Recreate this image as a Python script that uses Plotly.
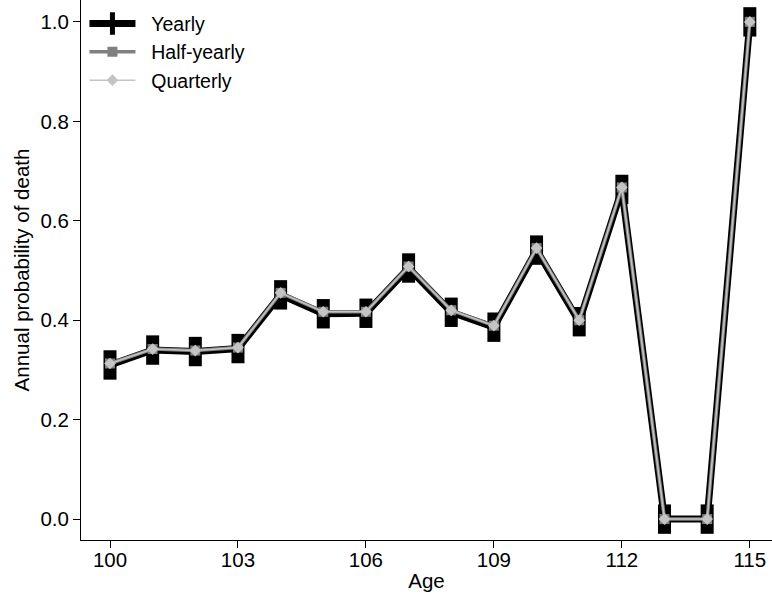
import plotly.graph_objects as go

ages = list(range(100, 116))
yearly = [0.310, 0.340, 0.337, 0.343, 0.451, 0.413, 0.414, 0.505, 0.416, 0.386, 0.541, 0.397, 0.663, 0.0, 0.0, 1.0]
half_yearly = [0.313, 0.342, 0.339, 0.345, 0.455, 0.417, 0.417, 0.508, 0.420, 0.389, 0.545, 0.400, 0.667, 0.0, 0.0, 1.0]
quarterly = [0.313, 0.342, 0.339, 0.345, 0.455, 0.417, 0.417, 0.508, 0.420, 0.389, 0.545, 0.400, 0.667, 0.0, 0.0, 1.0]
x_ticks = [100, 103, 106, 109, 112, 115]
y_ticks = [0.0, 0.2, 0.4, 0.6, 0.8, 1.0]

FONT = "Liberation Sans, Arial, sans-serif"
FS = 20.5
NB = "\u00a0\u00a0"

fig = go.Figure()
fig.add_trace(go.Scatter(
    x=ages, y=yearly, name=NB + "Yearly", mode="lines+markers",
    line=dict(color="black", width=7),
    marker=dict(symbol="line-ns", size=21, color="black",
                line=dict(color="black", width=13)),
))
fig.add_trace(go.Scatter(
    x=ages, y=half_yearly, name=NB + "Half-yearly", mode="lines+markers",
    line=dict(color="#808080", width=3.5),
    marker=dict(symbol="square", size=10, color="#808080"),
))
fig.add_trace(go.Scatter(
    x=ages, y=quarterly, name=NB + "Quarterly", mode="lines+markers",
    line=dict(color="#c4c4c4", width=1.5),
    marker=dict(symbol="diamond", size=9, color="#c4c4c4"),
))

fig.update_layout(
    width=772, height=598,
    margin=dict(l=81, r=0, t=0, b=58),
    paper_bgcolor="white", plot_bgcolor="white",
    font=dict(family=FONT, size=FS, color="black"),
    showlegend=True,
    legend=dict(x=0.005, y=0.992, xanchor="left", yanchor="top",
                bgcolor="rgba(0,0,0,0)", font=dict(size=19.5),
                tracegroupgap=0, itemwidth=46),
)
fig.update_xaxes(
    range=[99.32, 115.52], tickvals=x_ticks, ticktext=[str(v) for v in x_ticks],
    showgrid=False, zeroline=False, showline=True, linecolor="black", linewidth=1,
    ticks="outside", ticklen=7, tickcolor="black", ticklabelstandoff=-6,
    title=dict(text="Age", font=dict(size=FS), standoff=4),
    tickfont=dict(size=FS),
)
fig.update_yaxes(
    range=[-0.042, 1.044], tickvals=y_ticks, ticktext=[f"{v:.1f}" for v in y_ticks],
    showgrid=False, zeroline=False, showline=True, linecolor="black", linewidth=1,
    ticks="outside", ticklen=7, tickcolor="black",
    title=dict(text="Annual probability of death", font=dict(size=FS), standoff=5),
    tickfont=dict(size=FS),
)

fig.write_html("out.html")
